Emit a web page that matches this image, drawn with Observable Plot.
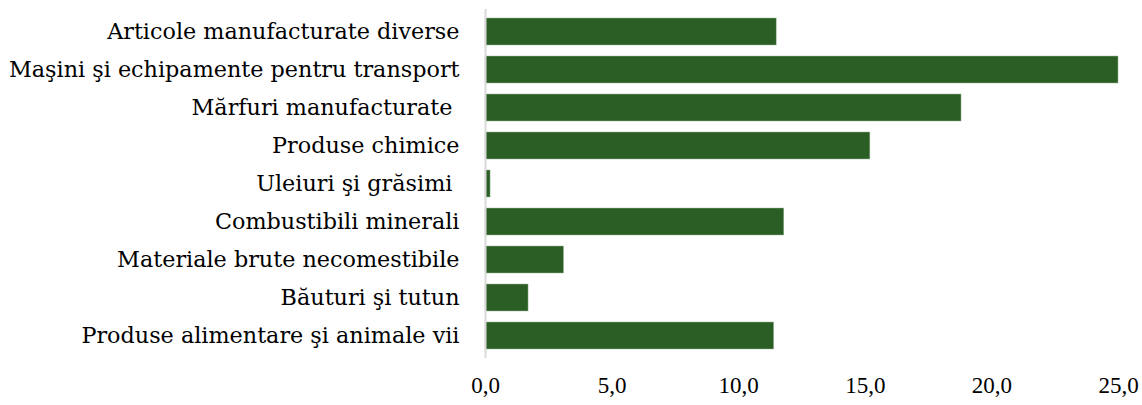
<!DOCTYPE html>
<html>
<head>
<meta charset="utf-8">
<script src="https://cdn.jsdelivr.net/npm/d3@7"></script>
<script src="https://cdn.jsdelivr.net/npm/@observablehq/plot@0.6"></script>
<style>
  html, body { margin: 0; padding: 0; background: #fff; }
  svg text { white-space: pre; }
</style>
</head>
<body>
<div id="chart"></div>
<script>
const categories = [
  "Articole manufacturate diverse",
  "Maşini şi echipamente pentru transport",
  "Mărfuri manufacturate ",
  "Produse chimice",
  "Uleiuri şi grăsimi ",
  "Combustibili minerali",
  "Materiale brute necomestibile",
  "Băuturi şi tutun",
  "Produse alimentare şi animale vii"
];
const values = [11.5, 25.0, 18.8, 15.2, 0.2, 11.8, 3.1, 1.7, 11.4];
const xTicks = [0, 5, 10, 15, 20, 25];

const data = categories.map((c, i) => ({category: c, value: values[i]}));
const fmt = d => d.toFixed(1).replace(".", ",");

const chart = Plot.plot({
  width: 1142,
  height: 405,
  marginLeft: 485,
  marginRight: 24,
  marginTop: 9,
  marginBottom: 47,
  style: {fontFamily: "'Liberation Serif', serif", fontSize: "22px", color: "#000", background: "#fff"},
  x: {domain: [0, 25], ticks: xTicks, label: null},
  y: {domain: categories, paddingInner: 0.3, paddingOuter: 0.15, label: null},
  marks: [
    Plot.barX(data, {x: "value", y: "category", fill: "#2b5e24", stroke: "#9cb898", strokeWidth: 0.5}),
    Plot.ruleX([0], {stroke: "#d9d9d9", strokeWidth: 2}),
    Plot.axisX({ticks: xTicks, tickFormat: fmt, tickSize: 0, tickPadding: 18, fontSize: 23, fill: "#000", label: null}),
    Plot.axisY({tickSize: 0, tickPadding: 26, fontSize: 22.3, fontFamily: "'DejaVu Serif', serif", fill: "#000", label: null})
  ]
});
document.getElementById("chart").appendChild(chart);
</script>
</body>
</html>
